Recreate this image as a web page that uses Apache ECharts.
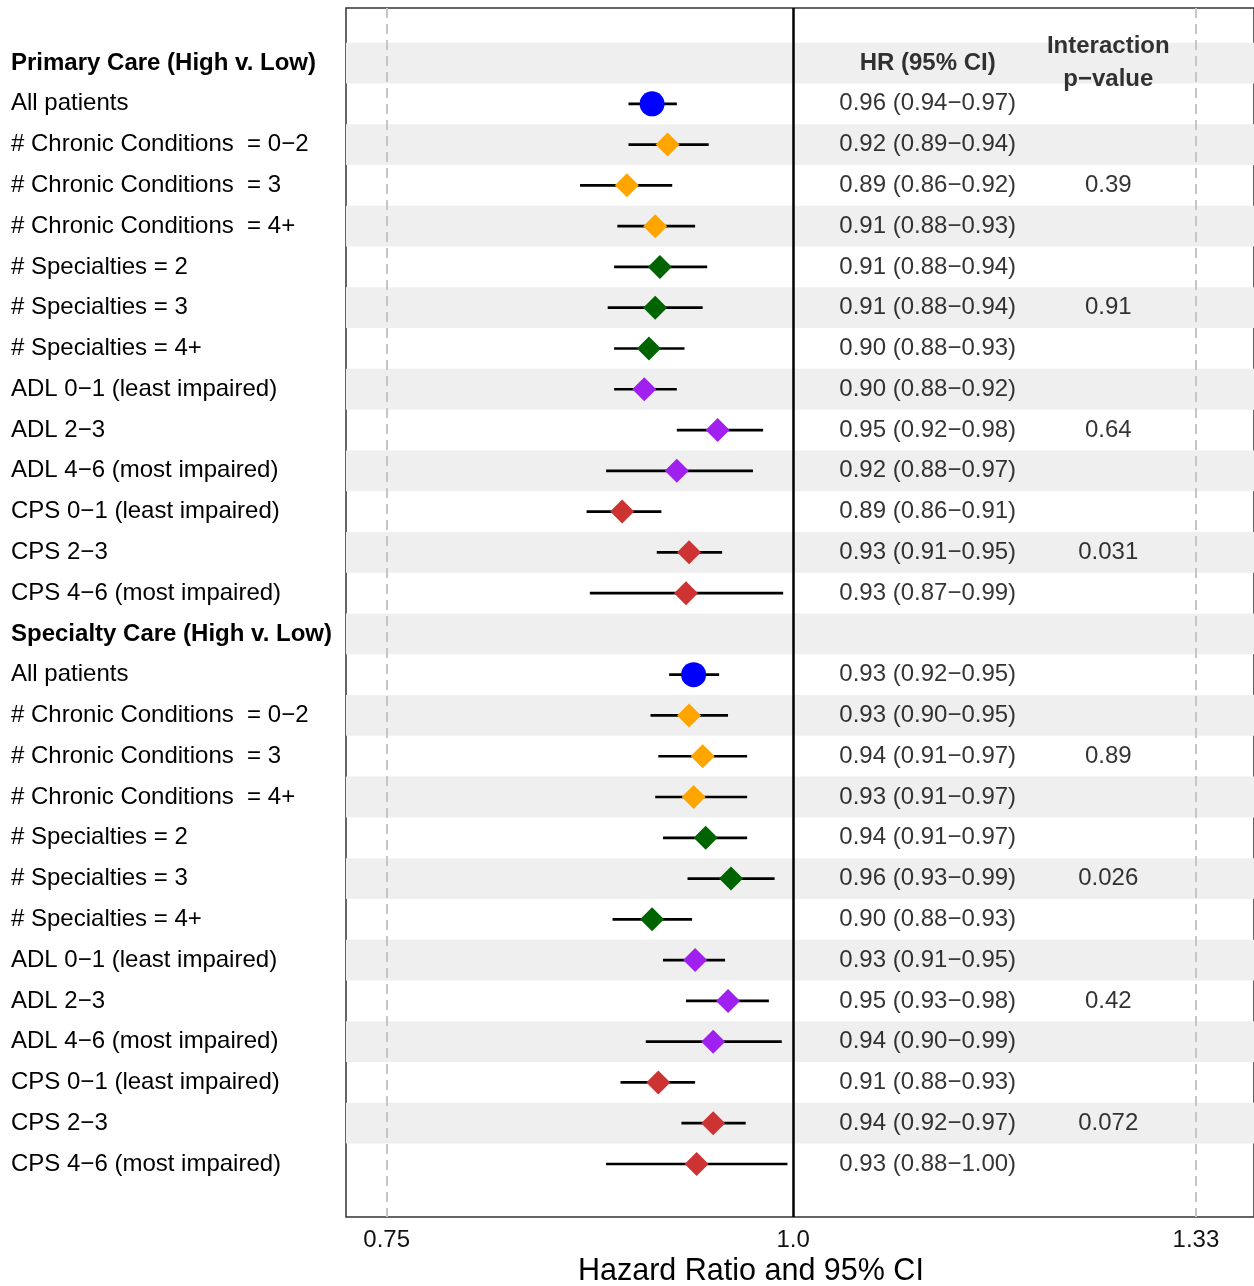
<!DOCTYPE html>
<html>
<head>
<meta charset="utf-8">
<script src="https://cdn.jsdelivr.net/npm/echarts@6/dist/echarts.min.js"></script>
<style>
  html, body { margin: 0; padding: 0; background: #fff; }
  #chart { width: 1254px; height: 1286px; }
</style>
</head>
<body>
<div id="chart"></div>
<script>
// subgroup rows (same for both sections)
const sections = ['Primary Care (High v. Low)', 'Specialty Care (High v. Low)']
const subgroups = [
  'All patients',
  '# Chronic Conditions  = 0\u22122',
  '# Chronic Conditions  = 3',
  '# Chronic Conditions  = 4+',
  '# Specialties = 2',
  '# Specialties = 3',
  '# Specialties = 4+',
  'ADL 0\u22121 (least impaired)',
  'ADL 2\u22123',
  'ADL 4\u22126 (most impaired)',
  'CPS 0\u22121 (least impaired)',
  'CPS 2\u22123',
  'CPS 4\u22126 (most impaired)'
]
const subgroupColor = ['#0000FF', '#FFA500', '#FFA500', '#FFA500', '#006400', '#006400', '#006400',
  '#A020F0', '#A020F0', '#A020F0', '#CD3333', '#CD3333', '#CD3333']

// estimates as drawn
const primaryHr = [0.905, 0.915, 0.889, 0.907, 0.910, 0.907, 0.903, 0.900, 0.948, 0.921, 0.886, 0.929, 0.927]
const primaryLo = [0.890, 0.890, 0.860, 0.883, 0.881, 0.877, 0.881, 0.881, 0.921, 0.876, 0.864, 0.908, 0.866]
const primaryHi = [0.921, 0.942, 0.918, 0.933, 0.941, 0.938, 0.926, 0.921, 0.979, 0.972, 0.911, 0.951, 0.993]
const specialtyHr = [0.932, 0.929, 0.938, 0.932, 0.940, 0.957, 0.905, 0.933, 0.955, 0.945, 0.909, 0.945, 0.934]
const specialtyLo = [0.916, 0.904, 0.909, 0.907, 0.912, 0.928, 0.880, 0.912, 0.927, 0.901, 0.885, 0.924, 0.876]
const specialtyHi = [0.949, 0.955, 0.968, 0.968, 0.968, 0.987, 0.931, 0.953, 0.983, 0.992, 0.933, 0.967, 0.996]

// text columns
const primaryText = ['0.96 (0.94\u22120.97)', '0.92 (0.89\u22120.94)', '0.89 (0.86\u22120.92)', '0.91 (0.88\u22120.93)',
  '0.91 (0.88\u22120.94)', '0.91 (0.88\u22120.94)', '0.90 (0.88\u22120.93)', '0.90 (0.88\u22120.92)', '0.95 (0.92\u22120.98)',
  '0.92 (0.88\u22120.97)', '0.89 (0.86\u22120.91)', '0.93 (0.91\u22120.95)', '0.93 (0.87\u22120.99)']
const specialtyText = ['0.93 (0.92\u22120.95)', '0.93 (0.90\u22120.95)', '0.94 (0.91\u22120.97)', '0.93 (0.91\u22120.97)',
  '0.94 (0.91\u22120.97)', '0.96 (0.93\u22120.99)', '0.90 (0.88\u22120.93)', '0.93 (0.91\u22120.95)', '0.95 (0.93\u22120.98)',
  '0.94 (0.90\u22120.99)', '0.91 (0.88\u22120.93)', '0.94 (0.92\u22120.97)', '0.93 (0.88\u22121.00)']
const primaryP = ['', '', '0.39', '', '', '0.91', '', '', '0.64', '', '', '0.031', '']
const specialtyP = ['', '', '0.89', '', '', '0.026', '', '', '0.42', '', '', '0.072', '']

const tickValues = [0.75, 1.0, 1.33]
const tickLabels = ['0.75', '1.0', '1.33']
const hrColumnAt = 1.1
const pColumnAt = 1.25

// build rows: header, 13 subgroups, header, 13 subgroups
let rowLabels = []
let bars = []
let points = []
let hrLabels = []
let pLabels = []
const blocks = [
  [primaryHr, primaryLo, primaryHi, primaryText, primaryP],
  [specialtyHr, specialtyLo, specialtyHi, specialtyText, specialtyP]
]
blocks.forEach((b, s) => {
  const [hr, lo, hi, txt, pv] = b
  rowLabels.push({text: sections[s], bold: true})
  subgroups.forEach((name, i) => {
    const row = rowLabels.length
    rowLabels.push({text: name, bold: false})
    bars.push([Math.log(lo[i]), Math.log(hi[i]), row])
    points.push({
      value: [Math.log(hr[i]), row],
      symbol: i === 0 ? 'circle' : 'diamond',
      symbolSize: i === 0 ? 25 : 24,
      itemStyle: {color: subgroupColor[i], opacity: 1}
    })
    hrLabels.push({value: [Math.log(hrColumnAt), row], name: txt[i]})
    if (pv[i]) {
      pLabels.push({value: [Math.log(pColumnAt), row], name: pv[i]})
    }
  })
})

let bands = []
for (let r = 0; r < rowLabels.length; r += 2) {
  bands.push([{yAxis: r - 0.5}, {yAxis: r + 0.5}])
}

const font = '"Liberation Sans", Arial, Helvetica, sans-serif'

const option = {
  animation: false,
  textStyle: {fontFamily: font},
  title: {
    text: 'Hazard Ratio and 95% CI',
    left: 573,
    top: 1251,
    textStyle: {fontSize: 30.5, fontWeight: 'normal', color: '#000', fontFamily: font}
  },
  grid: {
    left: 346,
    right: 0,
    top: 8,
    bottom: 69,
    show: true,
    borderColor: '#333',
    borderWidth: 1.5
  },
  xAxis: {
    type: 'value',
    min: -0.3165,
    max: 0.3263,
    splitLine: {show: false},
    axisLine: {show: false},
    axisTick: {show: false},
    axisLabel: {
      customValues: tickValues.map(Math.log),
      formatter: v => {
        let best = 0
        tickValues.forEach((t, i) => {
          if (Math.abs(Math.log(t) - v) < Math.abs(Math.log(tickValues[best]) - v)) best = i
        })
        return tickLabels[best]
      },
      fontSize: 24,
      color: '#111',
      margin: 11
    }
  },
  yAxis: {
    type: 'value',
    inverse: true,
    min: -1.35,
    max: 28.3,
    splitLine: {show: false},
    axisLine: {show: false},
    axisTick: {show: false},
    axisLabel: {
      customValues: rowLabels.map((d, i) => i),
      formatter: v => {
        const d = rowLabels[Math.round(v)]
        if (!d) return ''
        return d.bold ? '{h|' + d.text + '}' : d.text
      },
      align: 'left',
      margin: 335,
      fontSize: 24,
      color: '#000',
      rich: {
        h: {fontWeight: 'bold', fontSize: 24, color: '#000', fontFamily: font}
      }
    }
  },
  series: [
    {
      // alternating grey bands
      type: 'scatter',
      data: [],
      z: 0,
      silent: true,
      markArea: {
        silent: true,
        itemStyle: {color: '#EFEFEF'},
        data: bands
      }
    },
    {
      // reference lines
      type: 'scatter',
      data: [],
      z: 1,
      silent: true,
      markLine: {
        silent: true,
        symbol: 'none',
        precision: 8,
        label: {show: false},
        data: [
          {xAxis: Math.log(tickValues[0]), lineStyle: {color: '#C6C6C6', width: 2, type: [10, 6]}},
          {xAxis: Math.log(tickValues[2]), lineStyle: {color: '#C6C6C6', width: 2, type: [10, 6]}},
          {xAxis: 0, lineStyle: {color: '#000', width: 2.5, type: 'solid'}}
        ]
      }
    },
    {
      // confidence intervals
      type: 'custom',
      z: 3,
      encode: {x: [0, 1], y: 2},
      data: bars,
      renderItem: (params, api) => {
        const a = api.coord([api.value(0), api.value(2)])
        const b = api.coord([api.value(1), api.value(2)])
        return {
          type: 'line',
          shape: {x1: a[0], y1: a[1], x2: b[0], y2: b[1]},
          style: {stroke: '#000', lineWidth: 2.7}
        }
      }
    },
    {
      type: 'scatter',
      z: 4,
      itemStyle: {opacity: 1},
      data: points
    },
    {
      // HR (95% CI) column
      type: 'scatter',
      z: 4,
      symbolSize: 1,
      itemStyle: {color: 'transparent'},
      label: {
        show: true,
        position: 'inside',
        formatter: p => p.name,
        fontSize: 24,
        color: '#000'
      },
      data: hrLabels
    },
    {
      // interaction p-values
      type: 'scatter',
      z: 4,
      symbolSize: 1,
      itemStyle: {color: 'transparent'},
      label: {
        show: true,
        position: 'inside',
        formatter: p => p.name,
        fontSize: 24,
        color: '#000'
      },
      data: pLabels
    },
    {
      // column headers
      type: 'scatter',
      z: 4,
      symbolSize: 1,
      itemStyle: {color: 'transparent'},
      label: {
        show: true,
        position: 'inside',
        formatter: p => p.name,
        fontSize: 24,
        fontWeight: 'bold',
        lineHeight: 33,
        color: '#000'
      },
      data: [
        {value: [Math.log(hrColumnAt), 0], name: 'HR (95% CI)'},
        {value: [Math.log(pColumnAt), 0], name: 'Interaction\np\u2212value'}
      ]
    }
  ]
}

const myChart = echarts.init(document.getElementById('chart'))
myChart.setOption(option)
</script>
</body>
</html>
